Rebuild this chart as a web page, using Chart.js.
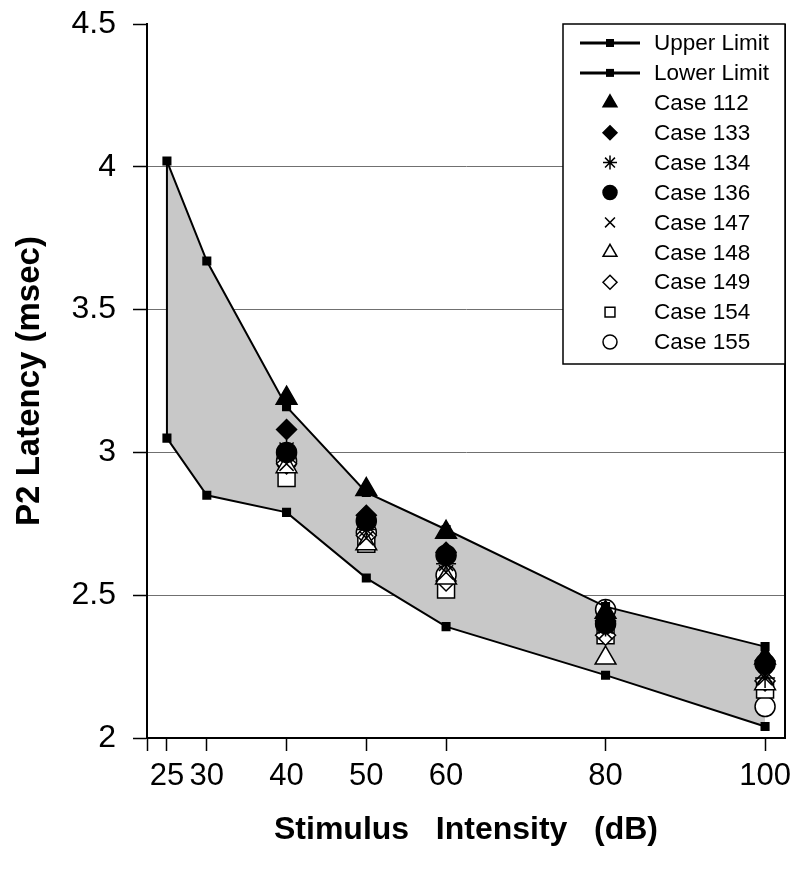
<!DOCTYPE html>
<html>
<head>
<meta charset="utf-8">
<script src="https://cdn.jsdelivr.net/npm/chart.js@4/dist/chart.umd.min.js"></script>
<style>
  body { margin: 0; background: #fff; }
  canvas { display: block; }
</style>
</head>
<body>
<canvas id="myChart" width="800" height="881"></canvas>
<script>
// stimulus intensity (dB) for the normal limits
var limitX = [25, 30, 40, 50, 60, 80, 100];
var upperLimit = [4.02, 3.67, 3.16, 2.86, 2.73, 2.46, 2.32];
var lowerLimit = [3.05, 2.85, 2.79, 2.56, 2.39, 2.22, 2.04];

// intensities at which the cases were measured
var caseX = [40, 50, 60, 80, 100];
var case112 = [3.19, 2.87, 2.72, 2.44, 2.28];
var case133 = [3.08, 2.78, 2.65, 2.41, 2.27];
var case134 = [3.01, 2.73, 2.61, 2.39, 2.21];
var case136 = [3.00, 2.76, 2.64, 2.40, 2.26];
var case147 = [2.96, 2.70, 2.58, 2.37, 2.22];
var case148 = [2.95, 2.68, 2.56, 2.28, 2.19];
var case149 = [2.96, 2.71, 2.55, 2.36, 2.20];
var case154 = [2.91, 2.68, 2.52, 2.36, 2.17];
var case155 = [2.97, 2.72, 2.57, 2.45, 2.11];

var xTicks = [25, 30, 40, 50, 60, 80, 100];
var yTicks = [2, 2.5, 3, 3.5, 4, 4.5];

function pts(xs, ys) {
	return ys.map(function(y, i){ return {x: xs[i], y: y}; });
}

// marker: [label, values, pointStyle, filled, radius]
var cases = [
	['Case 112', case112, 'triangle', true, 12],
	['Case 133', case133, 'rectRot', true, 10],
	['Case 134', case134, 'star', false, 10],
	['Case 136', case136, 'circle', true, 10],
	['Case 147', case147, 'crossRot', false, 10],
	['Case 148', case148, 'triangle', false, 12],
	['Case 149', case149, 'rectRot', false, 10],
	['Case 154', case154, 'rect', false, 12],
	['Case 155', case155, 'circle', false, 10]
];

var datasets = [
	{
		label: 'Upper Limit',
		data: pts(limitX, upperLimit),
		borderColor: '#000', backgroundColor: '#000',
		borderWidth: 2, pointStyle: 'rect', pointRadius: 5,
		showLine: true, fill: false
	},
	{
		label: 'Lower Limit',
		data: pts(limitX, lowerLimit),
		borderColor: '#000', backgroundColor: '#c8c8c8',
		pointBackgroundColor: '#000',
		borderWidth: 2, pointStyle: 'rect', pointRadius: 5,
		showLine: true, fill: '-1'
	},
	{
		// closing edge of the band at 25 dB
		label: '_edge',
		data: [{x: limitX[0], y: upperLimit[0]}, {x: limitX[0], y: lowerLimit[0]}],
		borderColor: '#000', borderWidth: 2, pointRadius: 0,
		showLine: true, fill: false
	}
];

cases.forEach(function(c){
	datasets.push({
		label: c[0],
		data: pts(caseX, c[1]),
		pointStyle: c[2],
		pointRadius: c[4],
		pointBorderWidth: 1.5,
		borderColor: '#000',
		backgroundColor: c[3] ? '#000' : '#fff',
		showLine: false
	});
});

// 圖例與右框線
var framePlugin = {
	id: 'frame',
	afterDraw: function(chart){
		var ctx = chart.ctx, a = chart.chartArea;
		ctx.save();
		ctx.strokeStyle = '#000';
		ctx.lineWidth = 2;
		ctx.beginPath();
		ctx.moveTo(a.right, a.top);
		ctx.lineTo(a.right, a.bottom);
		ctx.stroke();

		// legend box
		var w = 222, h = 340;
		var left = a.right - w, top = a.top;
		ctx.fillStyle = '#fff';
		ctx.fillRect(left, top, w, h);
		ctx.lineWidth = 1.5;
		ctx.strokeRect(left, top, w, h);

		var rowH = 29.9;
		ctx.font = '22.5px "Liberation Sans", Arial, sans-serif';
		ctx.textBaseline = 'middle';
		ctx.textAlign = 'left';
		var items = chart.data.datasets.filter(function(d){ return d.label.charAt(0) !== '_'; });
		items.forEach(function(d, i){
			var y = top + 19 + i * rowH;
			var mx = left + 47;
			if (d.showLine) {
				ctx.strokeStyle = '#000';
				ctx.lineWidth = 3;
				ctx.beginPath();
				ctx.moveTo(left + 17, y);
				ctx.lineTo(left + 77, y);
				ctx.stroke();
				ctx.fillStyle = '#000';
				ctx.fillRect(mx - 4, y - 4, 8, 8);
			} else {
				ctx.strokeStyle = '#000';
				ctx.fillStyle = d.backgroundColor;
				ctx.lineWidth = 1.5;
				Chart.helpers.drawPoint(ctx, {pointStyle: d.pointStyle, radius: d.pointStyle === 'triangle' ? 8 : 7, rotation: 0, borderWidth: 1.5}, mx, y);
			}
			ctx.fillStyle = '#000';
			ctx.fillText(d.label, left + 91, y + 1);
		});
		ctx.restore();
	}
};

var ctx = document.getElementById('myChart');
var myChart = new Chart(ctx, {
	type: 'scatter',
	data: { datasets: datasets },
	plugins: [framePlugin],
	options: {
		responsive: false,
		animation: false,
		layout: { padding: { top: 24, right: 15, left: 0, bottom: 0 } },
		plugins: {
			legend: { display: false },
			tooltip: { enabled: false },
			filler: { drawTime: 'beforeDatasetsDraw' }
		},
		scales: {
			x: {
				type: 'linear',
				min: 22.5,
				max: 102.5,
				afterBuildTicks: function(s){
					s.ticks = [{value: s.min}].concat(xTicks.map(function(v){ return {value: v}; }));
				},
				afterFit: function(s){
					s.height = 143;
					s.paddingLeft = 0;
					s.paddingRight = 0;
				},
				ticks: {
					autoSkip: false,
					maxRotation: 0,
					color: '#000',
					padding: 7,
					font: { family: '"Liberation Sans Narrow", "Liberation Sans", Arial, sans-serif', size: 31 },
					callback: function(v){ return xTicks.indexOf(v) >= 0 ? String(v) : ''; }
				},
				grid: { drawOnChartArea: false, tickLength: 13, tickColor: '#000', tickWidth: 1.5 },
				border: { color: '#000', width: 2 },
				title: {
					display: true,
					text: 'Stimulus   Intensity   (dB)',
					color: '#000',
					font: { family: '"Liberation Sans", Arial, sans-serif', size: 32, weight: 'bold' },
					padding: { top: 0, bottom: 32 }
				}
			},
			y: {
				min: 2,
				max: 4.5,
				afterBuildTicks: function(s){
					s.ticks = yTicks.map(function(v){ return {value: v}; });
				},
				afterFit: function(s){
					s.width = 147;
					s.paddingTop = 0;
					s.paddingBottom = 0;
				},
				ticks: {
					color: '#000',
					padding: 17,
					font: { family: '"Liberation Sans", Arial, sans-serif', size: 32 },
					callback: function(v){ return String(v); }
				},
				grid: {
					color: function(c){ return (c.tick && c.tick.value > 2 && c.tick.value < 4.5) ? '#707070' : 'rgba(0,0,0,0)'; },
					lineWidth: 1,
					tickLength: 14,
					tickColor: '#000',
					tickWidth: 1.5
				},
				border: { color: '#000', width: 2 },
				title: {
					display: true,
					text: 'P2 Latency (msec)',
					color: '#000',
					font: { family: '"Liberation Sans", Arial, sans-serif', size: 33, weight: 'bold' },
					padding: { top: 10, bottom: 0 }
				}
			}
		}
	}
});
</script>
</body>
</html>
